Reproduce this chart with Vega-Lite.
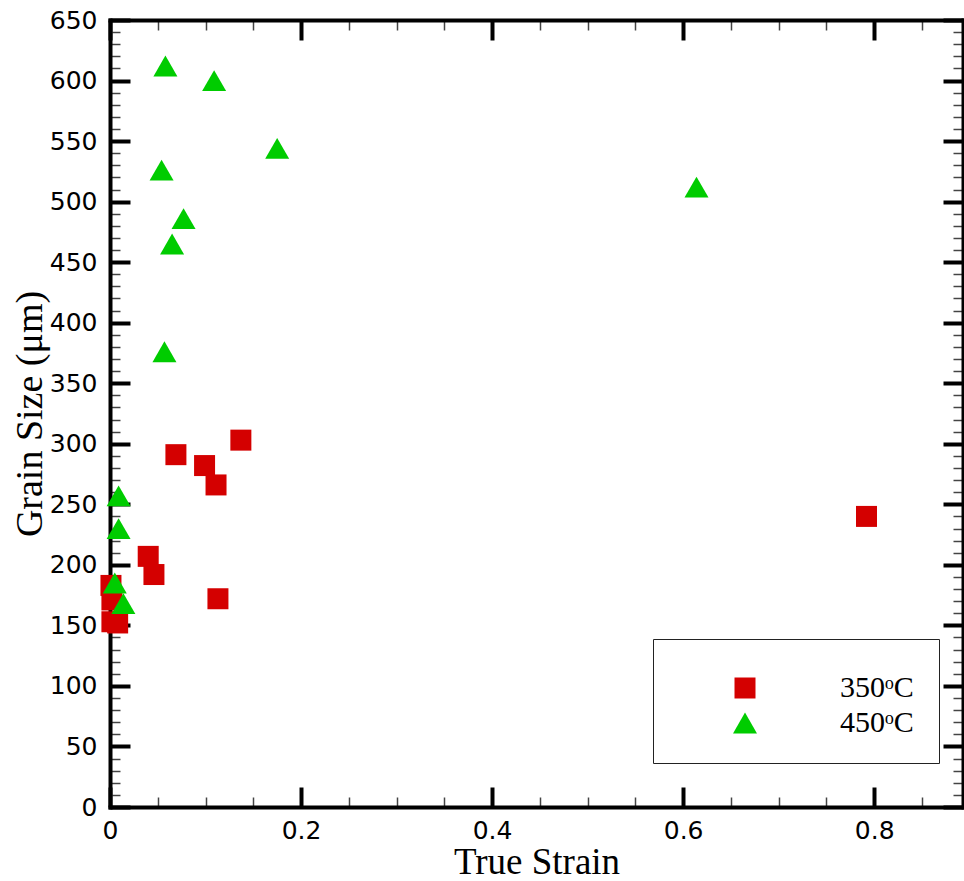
{
  "$schema": "https://vega.github.io/schema/vega-lite/v6.json",
  "width": 853,
  "height": 787,
  "autosize": {"type": "none"},
  "padding": {"left": 110, "top": 20, "right": 1, "bottom": 74},
  "background": "white",
  "config": {"view": {"stroke": null}},
  "data": {
    "values": [
      {"strain": 0.001, "size": 183, "temp": "350ᵒC"},
      {"strain": 0.002, "size": 171, "temp": "350ᵒC"},
      {"strain": 0.002, "size": 153, "temp": "350ᵒC"},
      {"strain": 0.008, "size": 152, "temp": "350ᵒC"},
      {"strain": 0.040, "size": 207, "temp": "350ᵒC"},
      {"strain": 0.046, "size": 192, "temp": "350ᵒC"},
      {"strain": 0.069, "size": 291, "temp": "350ᵒC"},
      {"strain": 0.099, "size": 282, "temp": "350ᵒC"},
      {"strain": 0.111, "size": 266, "temp": "350ᵒC"},
      {"strain": 0.113, "size": 172, "temp": "350ᵒC"},
      {"strain": 0.137, "size": 303, "temp": "350ᵒC"},
      {"strain": 0.792, "size": 240, "temp": "350ᵒC"},
      {"strain": 0.005, "size": 185, "temp": "450ᵒC"},
      {"strain": 0.009, "size": 257, "temp": "450ᵒC"},
      {"strain": 0.009, "size": 230, "temp": "450ᵒC"},
      {"strain": 0.014, "size": 168, "temp": "450ᵒC"},
      {"strain": 0.054, "size": 526, "temp": "450ᵒC"},
      {"strain": 0.057, "size": 376, "temp": "450ᵒC"},
      {"strain": 0.058, "size": 612, "temp": "450ᵒC"},
      {"strain": 0.065, "size": 465, "temp": "450ᵒC"},
      {"strain": 0.077, "size": 486, "temp": "450ᵒC"},
      {"strain": 0.109, "size": 600, "temp": "450ᵒC"},
      {"strain": 0.175, "size": 544, "temp": "450ᵒC"},
      {"strain": 0.614, "size": 512, "temp": "450ᵒC"}
    ]
  },
  "layer": [
    {
      "mark": {"type": "point", "filled": true, "opacity": 1, "strokeWidth": 0},
      "encoding": {
        "x": {
          "field": "strain", "type": "quantitative",
          "scale": {"domain": [0, 0.893], "nice": false, "zero": false},
          "axis": {
            "orient": "bottom",
            "title": "True Strain",
            "titleFont": "Liberation Serif", "titleFontSize": 37, "titleFontWeight": "normal", "titleColor": "black",
            "titlePadding": -9,
            "values": [0, 0.05, 0.1, 0.15, 0.2, 0.25, 0.3, 0.35, 0.4, 0.45, 0.5, 0.55, 0.6, 0.65, 0.7, 0.75, 0.8, 0.85],
            "labelExpr": "abs(datum.value*5 - round(datum.value*5)) < 1e-6 ? format(datum.value, '~g') : ''",
            "labelFont": "DejaVu Sans", "labelFontSize": 25, "labelColor": "black", "labelPadding": 31,
            "labelFlush": false, "labelOverlap": false,
            "domainColor": "black", "domainWidth": 4, "domainCap": "square",
            "tickSize": {"condition": {"test": "abs(datum.value*5 - round(datum.value*5)) < 1e-6", "value": -20}, "value": -10},
            "tickWidth": {"condition": {"test": "abs(datum.value*5 - round(datum.value*5)) < 1e-6", "value": 4}, "value": 1.5},
            "tickColor": {"condition": {"test": "abs(datum.value*5 - round(datum.value*5)) < 1e-6", "value": "black"}, "value": "#444"},
            "grid": false
          }
        },
        "y": {
          "field": "size", "type": "quantitative",
          "scale": {"domain": [0, 650], "nice": false, "zero": false},
          "axis": {
            "orient": "left",
            "title": "Grain Size (μm)",
            "titleFont": "Liberation Serif", "titleFontSize": 38, "titleFontWeight": "normal", "titleColor": "black",
            "titlePadding": 0,
            "values": [0,10,20,30,40,50,60,70,80,90,100,110,120,130,140,150,160,170,180,190,200,210,220,230,240,250,260,270,280,290,300,310,320,330,340,350,360,370,380,390,400,410,420,430,440,450,460,470,480,490,500,510,520,530,540,550,560,570,580,590,600,610,620,630,640,650],
            "labelExpr": "datum.value % 50 === 0 ? format(datum.value, 'd') : ''",
            "labelFont": "DejaVu Sans", "labelFontSize": 25, "labelColor": "black", "labelPadding": 33,
            "labelFlush": false, "labelOverlap": false,
            "domainColor": "black", "domainWidth": 4, "domainCap": "square",
            "tickSize": {"condition": {"test": "datum.value % 50 === 0", "value": -20}, "value": -10},
            "tickWidth": {"condition": {"test": "datum.value % 50 === 0", "value": 4}, "value": 1.5},
            "tickColor": {"condition": {"test": "datum.value % 50 === 0", "value": "black"}, "value": "#444"},
            "grid": false
          }
        },
        "shape": {
          "field": "temp", "type": "nominal",
          "scale": {"domain": ["350ᵒC", "450ᵒC"], "range": ["square", "triangle-up"]}
        },
        "color": {
          "field": "temp", "type": "nominal",
          "scale": {"domain": ["350ᵒC", "450ᵒC"], "range": ["#D40000", "#00CC00"]},
          "legend": {
            "title": " ",
            "titleFontSize": 4,
            "titlePadding": 5,
            "orient": "none",
            "legendX": 543,
            "legendY": 619,
            "strokeColor": "#222",
            "padding": 25,
            "symbolOffset": 52,
            "labelOffset": 80,
            "rowPadding": 5,
            "symbolStrokeWidth": 0,
            "labelFont": "Liberation Serif",
            "labelFontSize": 30,
            "labelColor": "black",
            "labelLimit": 300,
            "fillColor": "white"
          }
        },
        "size": {
          "field": "temp", "type": "nominal",
          "scale": {"domain": ["350ᵒC", "450ᵒC"], "range": [441, 576]}
        }
      }
    },
    {
      "mark": {"type": "point", "opacity": 0},
      "encoding": {
        "x": {
          "field": "strain", "type": "quantitative",
          "axis": {
            "orient": "top", "title": null, "labels": false,
            "values": [0, 0.05, 0.1, 0.15, 0.2, 0.25, 0.3, 0.35, 0.4, 0.45, 0.5, 0.55, 0.6, 0.65, 0.7, 0.75, 0.8, 0.85],
            "domainColor": "black", "domainWidth": 4, "domainCap": "square",
            "tickSize": {"condition": {"test": "abs(datum.value*5 - round(datum.value*5)) < 1e-6", "value": -20}, "value": -10},
            "tickWidth": {"condition": {"test": "abs(datum.value*5 - round(datum.value*5)) < 1e-6", "value": 4}, "value": 1.5},
            "tickColor": {"condition": {"test": "abs(datum.value*5 - round(datum.value*5)) < 1e-6", "value": "black"}, "value": "#444"},
            "grid": false
          }
        },
        "y": {
          "field": "size", "type": "quantitative",
          "axis": {
            "orient": "right", "title": null, "labels": false,
            "values": [0,10,20,30,40,50,60,70,80,90,100,110,120,130,140,150,160,170,180,190,200,210,220,230,240,250,260,270,280,290,300,310,320,330,340,350,360,370,380,390,400,410,420,430,440,450,460,470,480,490,500,510,520,530,540,550,560,570,580,590,600,610,620,630,640,650],
            "domainColor": "black", "domainWidth": 4, "domainCap": "square",
            "tickSize": {"condition": {"test": "datum.value % 50 === 0", "value": -20}, "value": -10},
            "tickWidth": {"condition": {"test": "datum.value % 50 === 0", "value": 4}, "value": 1.5},
            "tickColor": {"condition": {"test": "datum.value % 50 === 0", "value": "black"}, "value": "#444"},
            "grid": false
          }
        }
      }
    }
  ],
  "resolve": {"axis": {"x": "independent", "y": "independent"}}
}
